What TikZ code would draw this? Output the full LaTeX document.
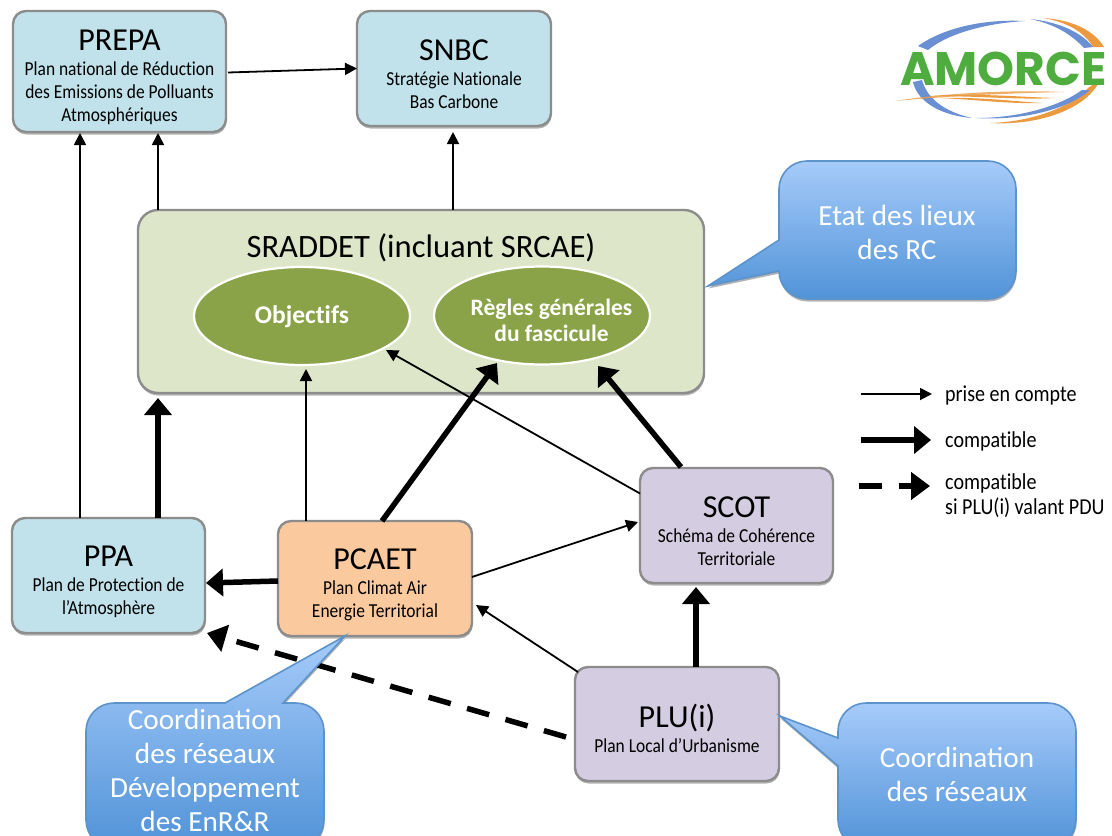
\documentclass[tikz,border=0pt]{standalone}
\usepackage{fontspec}
\setmainfont{Carlito}
\newfontfamily\logofont{Poppins}
\newfontfamily\narrowfont[FakeStretch=0.88,Ligatures=NoCommon]{Carlito}
\usetikzlibrary{arrows.meta,shadows,shapes.geometric,calc}
\definecolor{boxblue}{HTML}{C1E2EB}
\definecolor{boxgreen}{HTML}{DDE6C9}
\definecolor{boxolive}{HTML}{8BA348}
\definecolor{boxorange}{HTML}{FBC99E}
\definecolor{boxviolet}{HTML}{D4CDE1}
\definecolor{edgegray}{HTML}{8C8C8C}
\definecolor{calltop}{HTML}{A6CBFA}
\definecolor{callbot}{HTML}{5193D8}
\definecolor{calledge}{HTML}{5C93CB}
\definecolor{logogreen}{HTML}{4FAD3F}
\definecolor{logoblue}{HTML}{6A8FD3}
\definecolor{logoorange}{HTML}{EB9A40}
\newcommand\ttl[1]{\rule{0pt}{33pt}{\normalfont\fontsize{32}{32}\selectfont #1}\\[2pt]}
\tikzset{
 x=1pt,y=-1pt,
 softshadow/.style={drop shadow={shadow xshift=0.5pt,shadow yshift=-2.5pt,opacity=.3,fill=black}},
 planbox/.style={draw=edgegray,line width=2.4pt,rounded corners=13pt,inner sep=0pt,outer sep=0pt,align=center,
   softshadow,text=black,font=\narrowfont\fontsize{19.8}{23}\selectfont},
 blueplan/.style={planbox,fill=boxblue},
 violetplan/.style={planbox,fill=boxviolet},
 orangeplan/.style={planbox,fill=boxorange},
 goalell/.style={ellipse,draw=white,line width=2.2pt,fill=boxolive,inner sep=-14pt,outer sep=0pt,text=white,align=center,
   font=\fontsize{23.5}{26}\selectfont\bfseries},
 thinarrow/.style={line width=1.8pt,-{Triangle[length=12pt,width=12pt]}},
 thickarrow/.style={line width=5.5pt,-{Triangle[length=17pt,width=27pt]}},
 dasharrow/.style={line width=5.5pt,dash pattern=on 23pt off 17pt,-{Triangle[length=19pt,width=27pt]}},
 callshape/.style={top color=calltop,bottom color=callbot,draw=calledge,line width=1.6pt,softshadow},
 calltext/.style={text=white,align=center,inner sep=0pt,font=\fontsize{29.2}{34}\selectfont},
 legendtext/.style={anchor=west,inner sep=0pt,align=left,font=\narrowfont\fontsize{22.8}{25}\selectfont},
}
\begin{document}
\begin{tikzpicture}
\useasboundingbox (0,0) rectangle (1112,836);
\fill[white] (0,0) rectangle (1112,836);
% boxes
\node[blueplan,minimum width=213pt,minimum height=121pt] (prepa) at (119.5,71.5)
 {\ttl{PREPA}Plan national de Réduction\\des Emissions de Polluants\\Atmosphériques};
\node[blueplan,minimum width=194pt,minimum height=115pt] (snbc) at (454,68.5)
 {\ttl{SNBC}Stratégie Nationale\\Bas Carbone};
\node[planbox,fill=boxgreen,minimum width=566pt,minimum height=183pt,rounded corners=20pt] (sraddet) at (421,301.5) {};
\node[inner sep=0pt,font=\fontsize{32.6}{33}\selectfont] (sradtitle) at (421,248) {SRADDET (incluant SRCAE)};
\node[goalell,font=\fontsize{25.5}{26}\selectfont\bfseries\addfontfeatures{Ligatures=NoCommon},minimum width=216pt,minimum height=98pt] (obj) at (302,316) {\rule{0pt}{20pt}Objectifs};
\node[goalell,inner xsep=-30pt,minimum width=216pt,minimum height=98pt] (regles) at (542,315.5) {\rule{0pt}{27pt}\hspace*{19pt}Règles générales\\\hspace*{19pt}du fascicule};
\node[blueplan,minimum width=193pt,minimum height=115pt] (ppa) at (108.5,575.5)
 {\ttl{PPA}Plan de Protection de\\l’Atmosphère};
\node[orangeplan,minimum width=194pt,minimum height=115pt] (pcaet) at (375,578.5)
 {\ttl{PCAET}Plan Climat Air\\Energie Territorial};
\node[violetplan,minimum width=193pt,minimum height=115pt] (scot) at (736.5,525.5)
 {\ttl{SCOT}Schéma de Cohérence\\Territoriale};
\node[violetplan,minimum width=204pt,minimum height=114pt] (plu) at (677,724)
 {\ttl{PLU(i)}Plan Local d’Urbanisme};
% connectors
\draw[thinarrow] ($(prepa.east)+(2,1)$) -- (snbc.west);
\draw[thinarrow] ($(ppa.north)+(-28.5,0)$) -- ($(prepa.south)+(-39.5,1)$);
\draw[thinarrow] ($(sraddet.north west)+(20,0)$) -- ($(prepa.south)+(38.5,1)$);
\draw[thinarrow] ($(sraddet.north)+(32,0)$) -- ($(snbc.south)+(-1,6)$);
\draw[thinarrow] ($(pcaet.north)+(-69,0)$) -- ($(obj.south)+(4,4)$);
\draw[thinarrow] ($(scot.west)+(0,-32)$) -- ($(obj)+(84,34)$);
\draw[thinarrow] ($(pcaet.east)+(0,-1.5)$) -- ($(scot)+(-98.5,-3.5)$);
\draw[thinarrow] ($(plu.north west)+(3,5)$) -- ($(pcaet.east)+(4,26.5)$);
\draw[thickarrow] ($(ppa.north)+(49.5,0)$) -- ($(sraddet.south west)+(20,5)$);
\draw[thickarrow] ($(pcaet.west)+(0,2.5)$) -- ($(ppa.east)+(1,7.5)$);
\draw[thickarrow] ($(pcaet.north)+(7,0)$) -- ($(regles)+(-45,47.5)$);
\draw[thickarrow] ($(scot.north)+(-55.5,-1)$) -- ($(regles)+(56,50.5)$);
\draw[thickarrow] ($(plu.north)+(19,0)$) -- ($(scot.south)+(-40.5,4)$);
\draw[dasharrow] ($(plu.west)+(-9,13)$) -- ($(ppa.south east)+(2,0)$);
% callouts
\path[callshape] (779,240) -- (779,189) .. controls (779,173.6) and (791.6,161) .. (807,161) -- (988,161) .. controls (1003.4,161) and (1016,173.6) .. (1016,189) -- (1016,271) .. controls (1016,286.4) and (1003.4,299) .. (988,299) -- (807,299) .. controls (791.6,299) and (779,286.4) .. (779,271) -- (708,286) -- cycle;
\node[calltext] (calla) at (897,232.5) {Etat des lieux\\des RC};
\path[callshape] (225,703) -- (114,703) .. controls (98.6,703) and (86,715.6) .. (86,731) -- (86,820) .. controls (86,835.4) and (98.6,848) .. (114,848) -- (296,848) .. controls (311.4,848) and (324,835.4) .. (324,820) -- (324,731) .. controls (324,715.6) and (311.4,703) .. (296,703) -- (283,703) -- (345,636) -- cycle;
\node[calltext] (callb) at (205,770.5) {Coordination\\des réseaux\\Développement\\des EnR\&R};
\path[callshape] (838,738) -- (838,731) .. controls (838,715.6) and (850.6,703) .. (866,703) -- (1048,703) .. controls (1063.4,703) and (1076,715.6) .. (1076,731) -- (1076,820) .. controls (1076,835.4) and (1063.4,848) .. (1048,848) -- (866,848) .. controls (850.6,848) and (838,835.4) .. (838,820) -- (838,766) -- (780,716) -- cycle;
\node[calltext] (callc) at (957,774) {Coordination\\des réseaux};
% legend
\node[legendtext] (leg1) at (945,395) {prise en compte};
\node[legendtext] (leg2) at (945,441) {compatible};
\node[legendtext,anchor=north west] (leg3) at (945,473) {compatible\\si PLU(i) valant PDU};
\coordinate (leg1s) at (861,394);
\coordinate (leg2s) at (861,440);
\coordinate (leg3s) at (859,486);
\draw[thinarrow] (leg1s) -- ($(leg1.west)+(-13,-1)$);
\draw[thickarrow] (leg2s) -- ($(leg2.west)+(-14,-1)$);
\draw[dasharrow] (leg3s) -- ($(leg3.north west)+(-15,13)$);
% logo
\fill[logoorange] (1043,18) .. controls (1075,20) and (1095,32) .. (1104,47) -- (1093,47) .. controls (1085,33) and (1068,22) .. (1043,18) -- cycle;
\fill[logoorange] (1100,80) .. controls (1088,108) and (1040,126) .. (990,123) .. controls (1030,122) and (1070,108) .. (1088,88) -- cycle;
\fill[logoblue] (918,46) .. controls (945,27) and (985,19) .. (1025,21) .. controls (990,23) and (950,32) .. (928,50) -- cycle;
\fill[logoblue] (1030,19) .. controls (1060,22) and (1082,33) .. (1093,47) -- (1084,48) .. controls (1072,35) and (1055,24) .. (1030,19) -- cycle;
\fill[logoblue] (913,82) -- (922,80) .. controls (928,102) and (950,113) .. (972,118) .. controls (945,116) and (918,104) .. (913,82) -- cycle;
\fill[logoblue] (976,118) .. controls (1020,118) and (1060,106) .. (1082,90) -- (1090,90) .. controls (1070,108) and (1025,121) .. (976,118) -- cycle;
\fill[logoorange,opacity=.8] (895,101) .. controls (950,92) and (1020,90) .. (1064,92) .. controls (1020,93) and (960,95) .. (895,101) -- cycle;
\fill[logoorange] (930,96) .. controls (980,93) and (1020,97) .. (1055,98) .. controls (1020,100) and (980,96) .. (930,96) -- cycle;
\fill[logoorange] (940,98) .. controls (980,97) and (1010,101) .. (1042,103) .. controls (1010,104) and (980,100) .. (940,98) -- cycle;
\node[inner sep=0pt,text=logogreen,font=\logofont\bfseries\fontsize{47}{47}\selectfont] (logo) at (1003.5,68.5) {AMORCE};
\end{tikzpicture}
\end{document}
